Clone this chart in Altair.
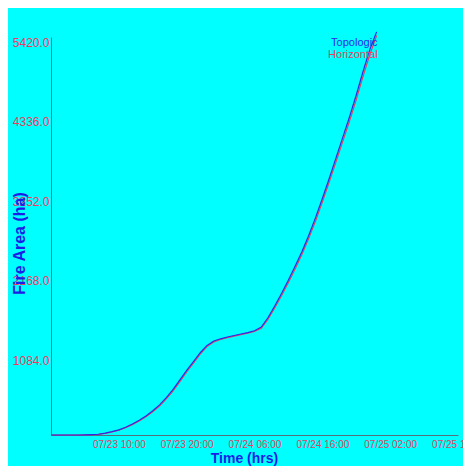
import altair as alt
import pandas as pd

# hours since 07/23 00:00
hours = list(range(0, 49))
topologic = [0, 0, 0, 0, 0, 2, 5, 10, 25, 45, 70, 105, 150, 200, 260, 330, 410, 510,
             620, 750, 880, 1000, 1120, 1220, 1280, 1310, 1335, 1355, 1375, 1395, 1420,
             1470, 1600, 1760, 1930, 2110, 2300, 2500, 2720, 2960, 3220, 3490, 3770,
             4050, 4330, 4630, 4950, 5250, 5490]
horizontal = [0, 0, 0, 0, 0, 2, 4, 9, 22, 41, 65, 98, 141, 190, 248, 316, 394, 492,
              600, 728, 858, 980, 1100, 1204, 1268, 1300, 1326, 1347, 1367, 1387, 1410,
              1454, 1578, 1734, 1900, 2078, 2264, 2460, 2678, 2914, 3172, 3440, 3718,
              3996, 4272, 4568, 4884, 5180, 5440]
y_ticks = [1084, 2168, 3252, 4336, 5420]
x_ticks = [10, 20, 30, 40, 50, 60]

df = pd.DataFrame({
    "t": hours * 2,
    "area": horizontal + topologic,
    "series": ["Horizontal"] * len(hours) + ["Topologic"] * len(hours),
})
ends = pd.DataFrame({
    "t": [hours[-1], hours[-1]],
    "area": [topologic[-1], horizontal[-1]],
    "series": ["Topologic", "Horizontal"],
})

color_scale = alt.Scale(domain=["Topologic", "Horizontal"], range=["#2a2ae6", "#e8405c"])
label_red = "#e8405c"
title_blue = "#1c1ce8"

x_enc = alt.X("t:Q", scale=alt.Scale(domain=[0, 60], nice=False),
              axis=alt.Axis(values=x_ticks, title="Time (hrs)", grid=False, ticks=False,
                            labelExpr="'07/' + (23 + floor(datum.value/24)) + ' ' + (datum.value % 24 < 10 ? '0' : '') + (datum.value % 24) + ':00'",
                            labelColor=label_red, labelFontSize=10, labelFont="Liberation Sans",
                            labelBaseline="top", labelPadding=4, labelFlush=False, labelOverlap=False,
                            domainColor="#55707a", titleColor=title_blue, titleFont="Liberation Sans",
                            titleFontSize=14, titleFontWeight="bold", titleX=193, titleY=23,
                            titleBaseline="middle", titleAnchor="start", titleAlign="center"))
y_enc = alt.Y("area:Q", scale=alt.Scale(domain=[0, 5420], nice=False),
              axis=alt.Axis(values=y_ticks, title="Fire Area (ha)", grid=False, ticks=False,
                            format=".1f", labelColor=label_red, labelFontSize=12,
                            labelFont="Liberation Sans", labelBaseline="top", labelPadding=2,
                            labelOverlap=False, labelFlush=False,
                            domainColor="#55707a", titleColor=title_blue, titleFont="Liberation Sans",
                            titleFontSize=16, titleFontWeight="bold", titleX=-32, titleY=206,
                            titleBaseline="middle", titleAngle=270, titleAlign="center",
                            titleAnchor="start"))

lines = alt.Chart(df).mark_line(strokeWidth=1.2, clip=False).encode(
    x=x_enc, y=y_enc,
    color=alt.Color("series:N", scale=color_scale, legend=None),
    detail="series:N",
    order=alt.Order("t:Q"),
)

texts_top = alt.Chart(ends[ends.series == "Topologic"]).mark_text(
    align="right", baseline="middle", dx=1, dy=11, fontSize=11, font="Liberation Sans"
).encode(x="t:Q", y="area:Q", text="series:N",
         color=alt.Color("series:N", scale=color_scale, legend=None))
texts_hor = alt.Chart(ends[ends.series == "Horizontal"]).mark_text(
    align="right", baseline="middle", dx=1, dy=19, fontSize=11, font="Liberation Sans"
).encode(x="t:Q", y="area:Q", text="series:N",
         color=alt.Color("series:N", scale=color_scale, legend=None))

chart = alt.layer(lines, texts_top, texts_hor).properties(
    width=407, height=398,
    background="#00ffff",
    padding={"left": 43, "top": 29, "right": 5, "bottom": 31},
    autosize=alt.AutoSizeParams(type="none"),
).configure_view(stroke=None)

chart.save("out.html", embed_options={"renderer": "svg", "actions": False})
